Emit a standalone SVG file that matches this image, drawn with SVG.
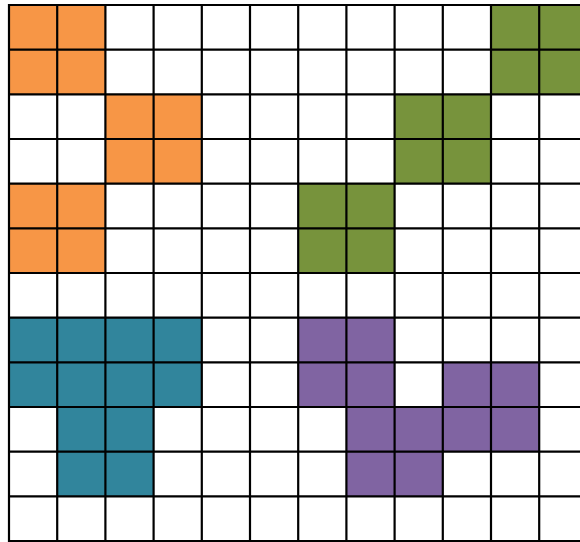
<svg xmlns="http://www.w3.org/2000/svg" width="580" height="542" viewBox="0 0 580 542">
<style>
.o{fill:#F79646}.g{fill:#77933C}.t{fill:#31859C}.p{fill:#8064A2}
.grid line{stroke:#000;stroke-width:2.2}
</style>
<rect x="0" y="0" width="580" height="542" fill="#fff"/>
<g id="orange">
<rect class="o" x="9" y="5" width="96.4" height="89.33"/>
<rect class="o" x="105.4" y="94.33" width="96.4" height="89.34"/>
<rect class="o" x="9" y="183.67" width="96.4" height="89.33"/>
</g>
<g id="green">
<rect class="g" x="491" y="5" width="96.4" height="89.33"/>
<rect class="g" x="394.6" y="94.33" width="96.4" height="89.34"/>
<rect class="g" x="298.2" y="183.67" width="96.4" height="89.33"/>
</g>
<g id="teal">
<rect class="t" x="9" y="317.67" width="192.8" height="89.33"/>
<rect class="t" x="57.2" y="407" width="96.4" height="89.33"/>
</g>
<g id="purple">
<rect class="p" x="298.2" y="317.67" width="96.4" height="89.33"/>
<rect class="p" x="442.8" y="362.33" width="96.4" height="44.67"/>
<rect class="p" x="346.4" y="407" width="192.8" height="44.67"/>
<rect class="p" x="346.4" y="451.67" width="96.4" height="44.66"/>
</g>
<g id="grid" class="grid">
<line x1="9" y1="4" x2="9" y2="542"/>
<line x1="57.2" y1="5" x2="57.2" y2="541"/>
<line x1="105.4" y1="5" x2="105.4" y2="541"/>
<line x1="153.6" y1="5" x2="153.6" y2="541"/>
<line x1="201.8" y1="5" x2="201.8" y2="541"/>
<line x1="250" y1="5" x2="250" y2="541"/>
<line x1="298.2" y1="5" x2="298.2" y2="541"/>
<line x1="346.4" y1="5" x2="346.4" y2="541"/>
<line x1="394.6" y1="5" x2="394.6" y2="541"/>
<line x1="442.8" y1="5" x2="442.8" y2="541"/>
<line x1="491" y1="5" x2="491" y2="541"/>
<line x1="539.2" y1="5" x2="539.2" y2="541"/>
<line x1="8" y1="5" x2="580" y2="5"/>
<line x1="8" y1="49.67" x2="580" y2="49.67"/>
<line x1="8" y1="94.33" x2="580" y2="94.33"/>
<line x1="8" y1="139" x2="580" y2="139"/>
<line x1="8" y1="183.67" x2="580" y2="183.67"/>
<line x1="8" y1="228.33" x2="580" y2="228.33"/>
<line x1="8" y1="273" x2="580" y2="273"/>
<line x1="8" y1="317.67" x2="580" y2="317.67"/>
<line x1="8" y1="362.33" x2="580" y2="362.33"/>
<line x1="8" y1="407" x2="580" y2="407"/>
<line x1="8" y1="451.67" x2="580" y2="451.67"/>
<line x1="8" y1="496.33" x2="580" y2="496.33"/>
<line x1="8" y1="541" x2="580" y2="541"/>
</g>
</svg>
